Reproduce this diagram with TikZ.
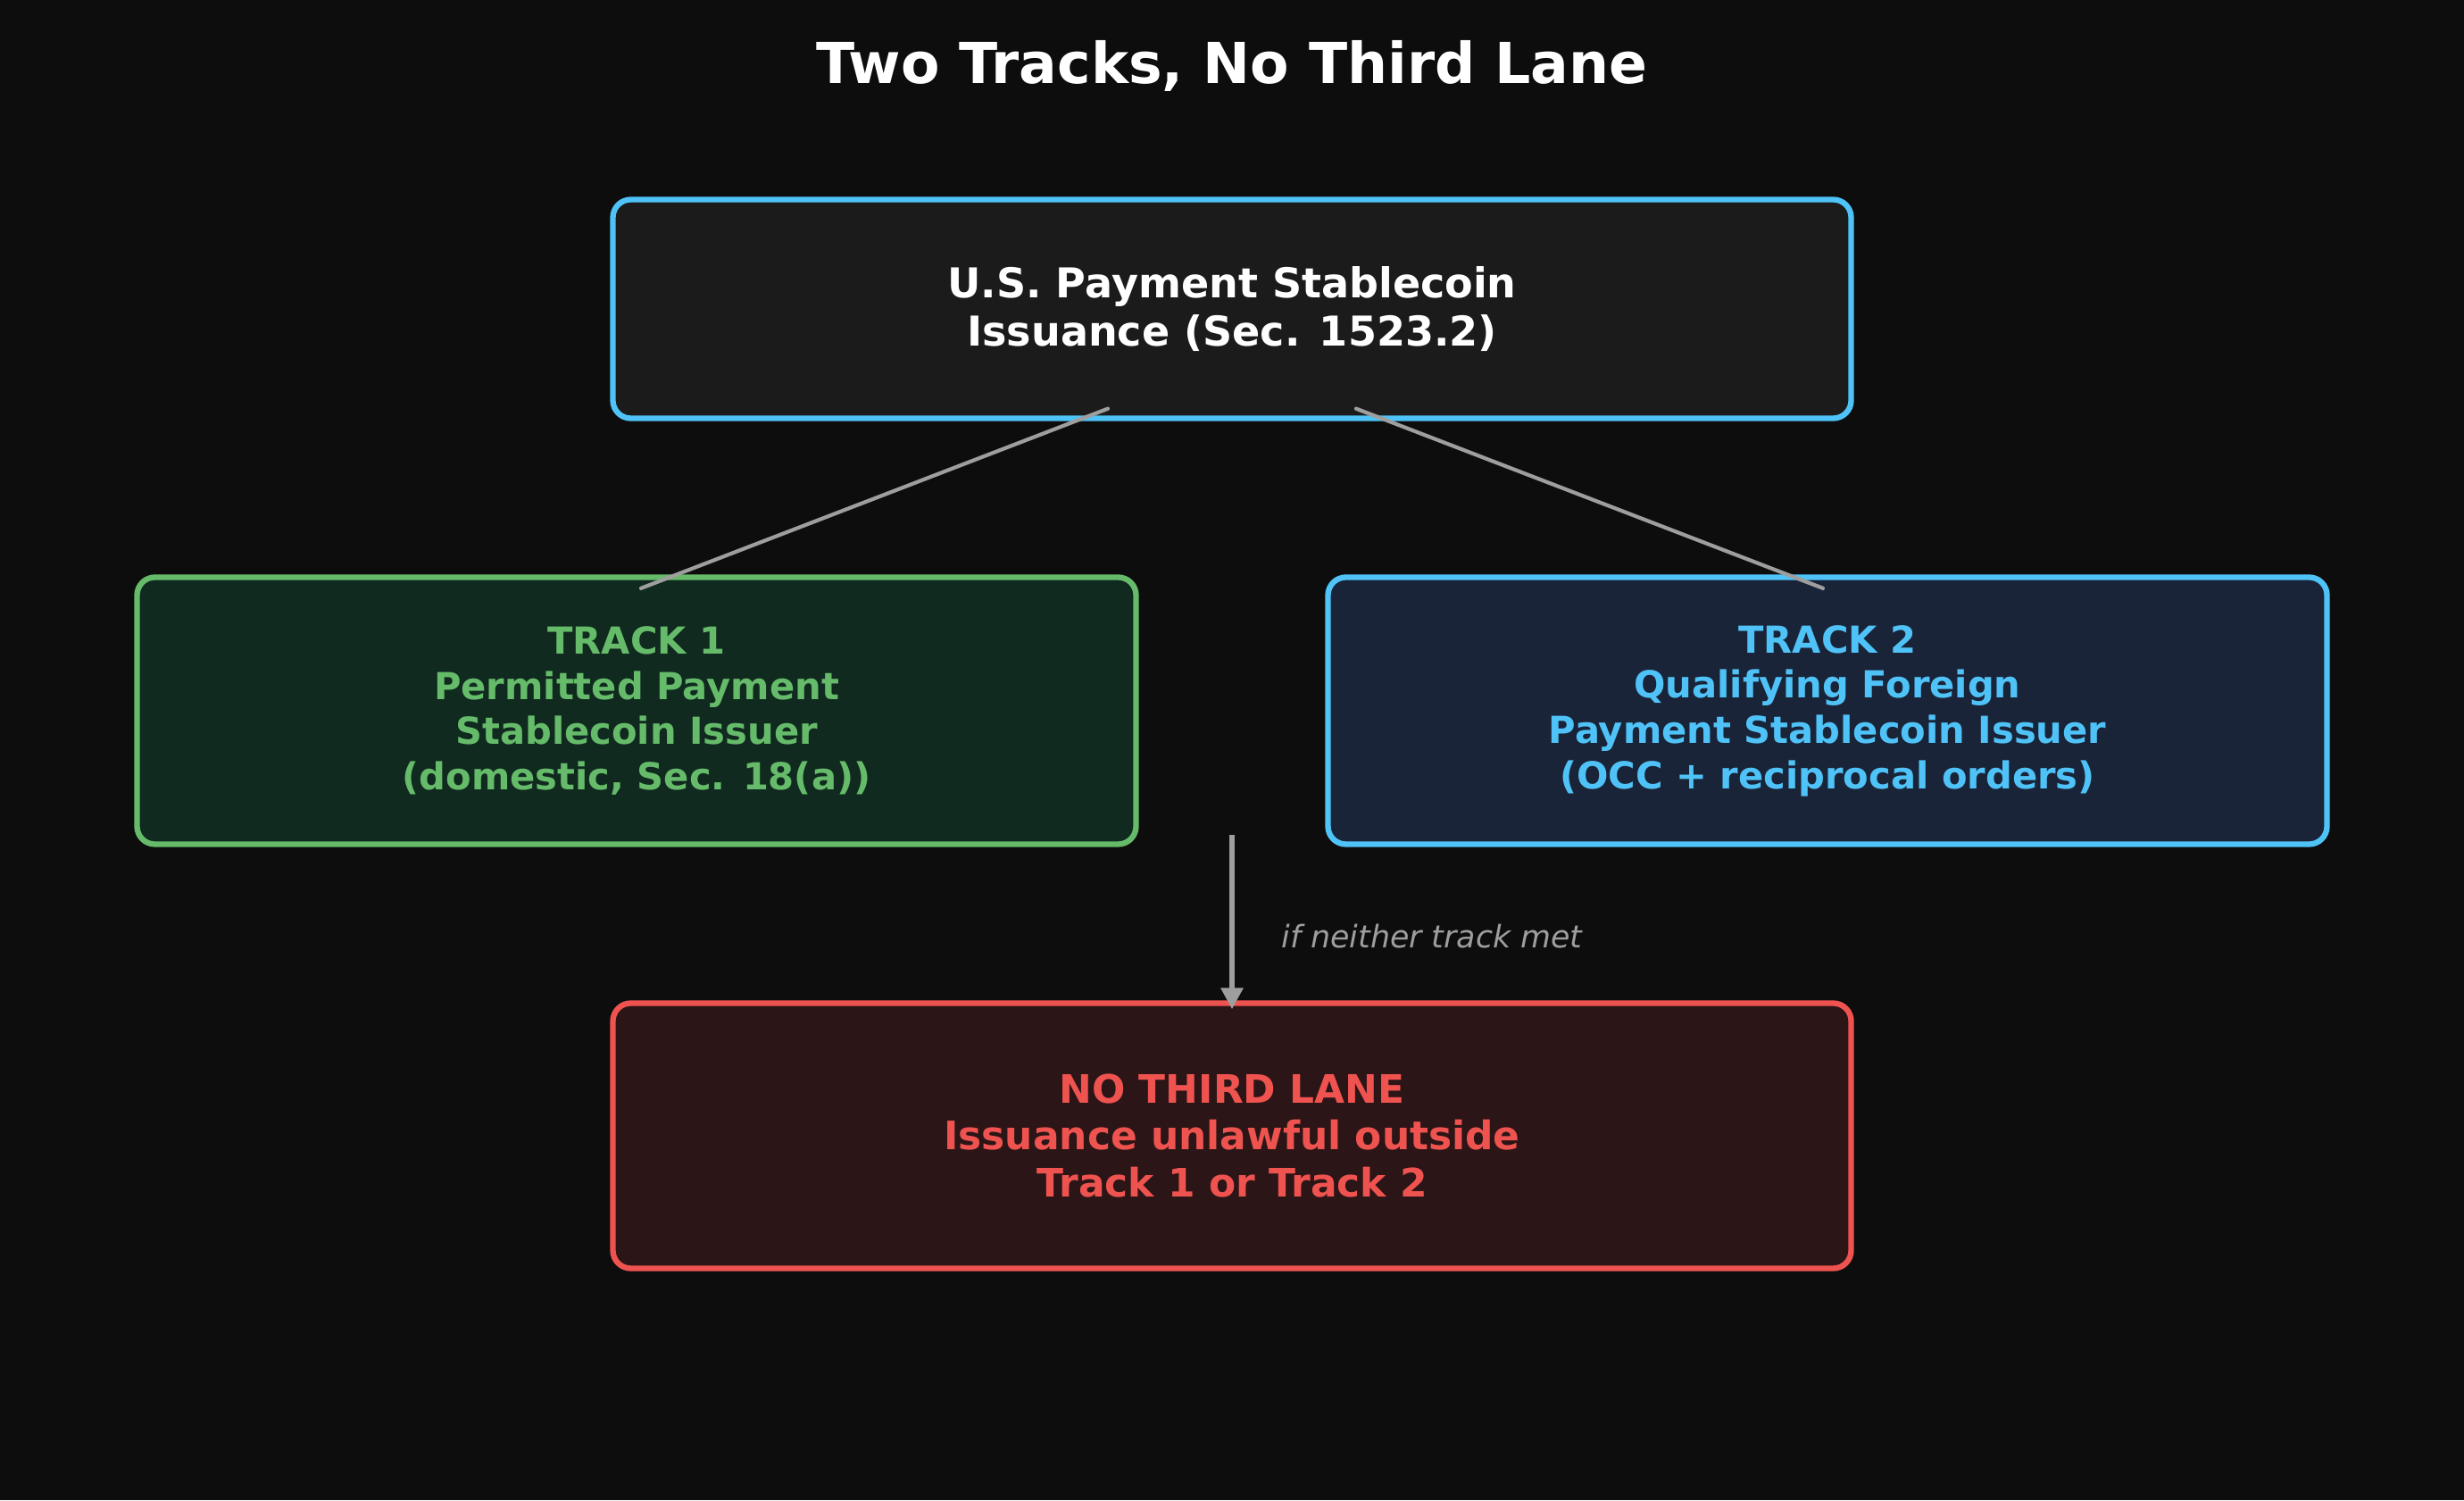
\documentclass[tikz,border=0pt]{standalone}
\usepackage{fontspec}
\setmainfont{DejaVu Sans}
\usetikzlibrary{calc,arrows.meta,positioning}
\definecolor{bgcol}{HTML}{0D0D0D}
\definecolor{topfill}{HTML}{1B1B1B}
\definecolor{greenfill}{HTML}{102A1F}
\definecolor{bluefill}{HTML}{1A2439}
\definecolor{redfill}{HTML}{2C1516}
\definecolor{skyline}{HTML}{4FC3F7}
\definecolor{greenline}{HTML}{66BB6A}
\definecolor{redline}{HTML}{EF5350}
\definecolor{linkgrey}{HTML}{9E9E9E}

\begin{document}
\begin{tikzpicture}

\tikzset{topnode/.style={font=\bfseries\fontsize{13.1pt}{15.5pt}\selectfont,text=white,fill=topfill,draw=skyline,line width=1.8pt,rounded corners=0.2cm,minimum width=13.87cm,minimum height=2.45cm,inner sep=0pt,align=center},
greennode/.style={font=\bfseries\fontsize{11.85pt}{14.4pt}\selectfont,text=greenline,fill=greenfill,draw=greenline,line width=1.8pt,rounded corners=0.2cm,minimum width=11.19cm,minimum height=2.99cm,inner sep=0pt,align=center},
bluenode/.style={greennode,text=skyline,fill=bluefill,draw=skyline},
rednode/.style={greennode,font=\bfseries\fontsize{12.5pt}{14.8pt}\selectfont,text=redline,fill=redfill,draw=redline,minimum width=13.87cm,minimum height=2.97cm},
link/.style={draw=linkgrey,line width=1.2pt,line cap=round},
flow/.style={draw=linkgrey,line width=1.8pt,-{Triangle[width=0.24cm,length=0.24cm]}}}

% Background
\fill[bgcol] (0,0) rectangle (27.6,16.8);

% Title
\node[anchor=base,text=white,font=\bfseries\fontsize{18pt}{21pt}\selectfont] (title) at (13.80,15.86) {Two Tracks, No Third Lane};

% Boxes
\node[topnode] (issuance) at (13.80,13.34) {U.S. Payment Stablecoin\\Issuance (Sec. 1523.2)};
\node[greennode] (track1) at (7.13,8.84) {TRACK 1\\Permitted Payment\\Stablecoin Issuer\\(domestic, Sec. 18(a))};
\node[bluenode] (track2) at (20.47,8.84) {TRACK 2\\Qualifying Foreign\\Payment Stablecoin Issuer\\(OCC + reciprocal orders)};
\node[rednode] (nolane) at (13.80,4.08) {NO THIRD LANE\\Issuance unlawful outside\\Track 1 or Track 2};

% Edges
\draw[link] ($(issuance.south)+(-1.39,0.14)$) -- ($(track1.north)+(0.05,-0.155)$);
\draw[link] ($(issuance.south)+(1.39,0.14)$) -- ($(track2.north)+(-0.05,-0.155)$);

% Fallthrough arrow
\coordinate (fork) at (13.80,7.45);
\draw[flow] (fork) -- ($(nolane.north)+(0,-0.1)$);
\node[anchor=base west,text=linkgrey,font=\itshape\fontsize{9.9pt}{11pt}\selectfont] (neither) at (14.23,6.18) {if neither track met};

\end{tikzpicture}
\end{document}
